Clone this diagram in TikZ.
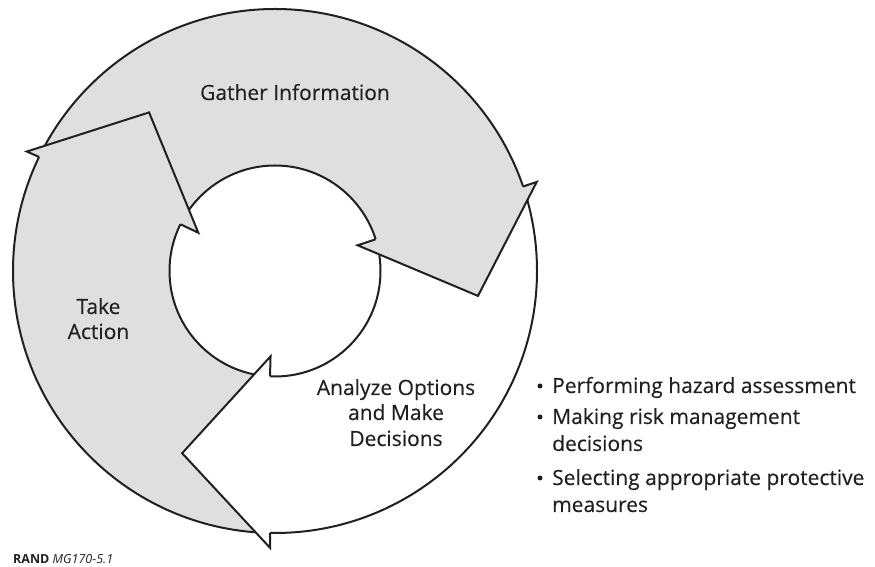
\documentclass[tikz,border=0pt]{standalone}
\usepackage{fontspec}
\setmainfont{Open Sans}
\newfontfamily\labfont{Open Sans}[FakeBold=0.3]
\definecolor{ringgray}{HTML}{DFDFDF}
\definecolor{ink}{HTML}{231F20}
\begin{document}
\begin{tikzpicture}[
  lab/.style={font=\labfont\fontsize{21}{25}\selectfont, text=ink, inner sep=0pt, anchor=base},
  bul/.style={font=\labfont\fontsize{21}{25}\selectfont, text=ink, inner sep=0pt, anchor=base west},
  dot/.style={circle, fill=ink, inner sep=0pt, minimum size=5pt},
  edge/.style={draw=ink, line width=2pt, line join=miter}
]
\useasboundingbox (0,0) rectangle (875pt,567pt);
\begin{scope}[shift={(275pt,296pt)}]
  % sector fills (slightly overlapping under the arrowheads)
  \fill[ringgray] (156:262pt) arc[start angle=156,end angle=16,radius=262pt]
    -- (16:105.5pt) arc[start angle=16,end angle=156,radius=105.5pt] -- cycle;
  \fill[ringgray] (267:262pt) arc[start angle=267,end angle=152,radius=262pt]
    -- (152:105.5pt) arc[start angle=152,end angle=267,radius=105.5pt] -- cycle;
  % ring outlines
  \draw[edge] (0,0) circle[radius=262pt];
  \draw[edge] (0,0) circle[radius=105.5pt];
  % Analyze arrowhead (white)
  \fill[white] (268.9:262pt) -- (269:277pt) -- (243:204.5pt) -- (267:85.5pt) -- (267.3:105.5pt) -- cycle;
  \draw[edge] (268.9:262pt) -- (269:277pt) -- (243:204.5pt) -- (267:85.5pt) -- (267.3:105.5pt);
  % Gather arrowhead (gray)
  \fill[ringgray] (18.8:262pt) -- (18.8:276.5pt) -- (-7:204.5pt) -- (17.3:86.5pt) -- (17.5:105.5pt) -- cycle;
  \draw[edge] (18.8:262pt) -- (18.8:276.5pt) -- (-7:204.5pt) -- (17.3:86.5pt) -- (17.5:105.5pt);
  % Take Action arrowhead (gray)
  \fill[ringgray] (154.2:262pt) -- (154.3:275.5pt) -- (128.45:202.5pt) -- (153.5:85.7pt) -- (153.7:105.5pt) -- cycle;
  \draw[edge] (154.2:262pt) -- (154.3:275.5pt) -- (128.45:202.5pt) -- (153.5:85.7pt) -- (153.7:105.5pt);
\end{scope}
% labels
\node[lab] (gather) at (295pt,467pt) {Gather Information};
\node[lab] (take1) at (98.5pt,253pt) {Take};
\node[lab] (take2) at (98.5pt,228pt) {Action};
\node[lab] (an1) at (396pt,172pt) {Analyze Options};
\node[lab] (an2) at (396pt,147pt) {and Make};
\node[lab] (an3) at (396pt,121pt) {Decisions};
% bullets
\node[dot] (b1) at (540pt,181pt) {};
\node[bul] (t1) at (552pt,174pt) {Performing hazard assessment};
\node[dot] (b2) at (540pt,150pt) {};
\node[bul] (t2) at (552pt,143pt) {Making risk management};
\node[bul] (t2b) at (552pt,116pt) {decisions};
\node[dot] (b3) at (540pt,89pt) {};
\node[bul] (t3) at (552pt,82pt) {Selecting appropriate protective};
\node[bul] (t3b) at (552pt,55pt) {measures};
% credit
\node[anchor=base west, inner sep=0pt, text=ink, font=\fontsize{12.5}{14}\selectfont] (credit) at (13pt,3pt) {\textbf{RAND} \textit{MG170-5.1}};
\end{tikzpicture}
\end{document}
